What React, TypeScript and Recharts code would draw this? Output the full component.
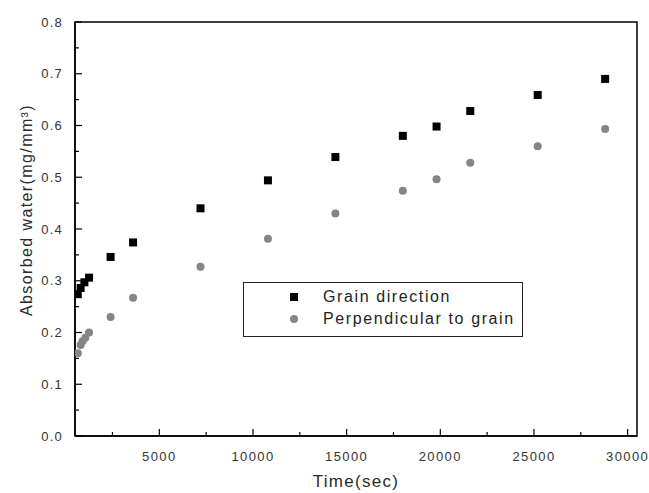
import React from 'react';
import { ScatterChart, Scatter, XAxis, YAxis, ReferenceArea } from 'recharts';

const seriesNames = ['Grain direction', 'Perpendicular to grain'];
const grainTime = [650, 800, 1000, 1250, 2400, 3600, 7200, 10800, 14400, 18000, 19800, 21600, 25200, 28800];
const grainWater = [0.274, 0.286, 0.297, 0.306, 0.346, 0.374, 0.44, 0.494, 0.539, 0.58, 0.598, 0.628, 0.659, 0.69];
const perpTime = [650, 800, 900, 1050, 1250, 2400, 3600, 7200, 10800, 14400, 18000, 19800, 21600, 25200, 28800];
const perpWater = [0.16, 0.176, 0.183, 0.19, 0.2, 0.23, 0.267, 0.327, 0.381, 0.43, 0.474, 0.496, 0.528, 0.56, 0.593];
const xMajorTicks = [5000, 10000, 15000, 20000, 25000, 30000];
const xMinorTicks = [2500, 7500, 12500, 17500, 22500, 27500];
const yMajorTicks = [0, 0.1, 0.2, 0.3, 0.4, 0.5, 0.6, 0.7, 0.8];
const yMinorTicks = [0.05, 0.15, 0.25, 0.35, 0.45, 0.55, 0.65, 0.75];
const xDomain = [500, 30500];
const yDomain = [0, 0.8];

const grainData = grainTime.map((t, i) => ({ t, w: grainWater[i] }));
const perpData = perpTime.map((t, i) => ({ t, w: perpWater[i] }));
const xAllTicks = [...xMajorTicks, ...xMinorTicks].sort((a, b) => a - b);
const yAllTicks = [...yMajorTicks, ...yMinorTicks].sort((a, b) => a - b);
const isMajor = (v: number, list: number[]) => list.some((m) => Math.abs(m - v) < 1e-9);

const FONT = '"Liberation Sans", Arial, sans-serif';
const GREY = '#858585';
const TICK_COLOR = '#333';

const Square = (p: any) => <rect x={p.cx - 4} y={p.cy - 4} width={8} height={8} fill="#000" />;
const Dot = (p: any) => <circle cx={p.cx} cy={p.cy} r={4} fill={GREY} />;

const XTick = (props: any) => {
  const { x, y, payload } = props;
  const v = payload.value;
  const major = isMajor(v, xMajorTicks);
  return (
    <g>
      <line x1={x} y1={y} x2={x} y2={y - (major ? 7 : 4)} stroke="#000" strokeWidth={1.2} />
      {major && (
        <text x={x} y={y + 25} textAnchor="middle" fontFamily={FONT} fontSize={13} letterSpacing={1.4} fill={TICK_COLOR}>
          {v}
        </text>
      )}
    </g>
  );
};

const YTick = (props: any) => {
  const { x, y, payload } = props;
  const v = payload.value;
  const major = isMajor(v, yMajorTicks);
  return (
    <g>
      <line x1={x} y1={y} x2={x + (major ? 7 : 4)} y2={y} stroke="#000" strokeWidth={1.2} />
      {major && (
        <text x={x - 12} y={y + 4.5} textAnchor="end" fontFamily={FONT} fontSize={13} letterSpacing={1.2} fill={TICK_COLOR}>
          {v.toFixed(1)}
        </text>
      )}
    </g>
  );
};

const YTitle = (props: any) => {
  const vb = props.viewBox;
  const x = vb.x + 26;
  const y = vb.y + vb.height / 2 - 19;
  return (
    <text x={x} y={y} transform={`rotate(-90 ${x} ${y})`} textAnchor="middle" dominantBaseline="central"
      fontFamily={FONT} fontSize={16} letterSpacing={1.4} fill="#2a2a2a">
      Absorbed water(mg/mm³)
    </text>
  );
};

const XTitle = (props: any) => {
  const vb = props.viewBox;
  const x = vb.x + vb.width / 2;
  const y = vb.y + 51;
  return (
    <text x={x} y={y} textAnchor="middle" fontFamily={FONT} fontSize={17} letterSpacing={1.3} fill="#2a2a2a">
      Time(sec)
    </text>
  );
};

export default function App() {
  return (
    <div style={{ position: 'absolute', left: 0, top: 0, width: 649, height: 493, background: '#fff' }}>
      <ScatterChart width={649} height={493} margin={{ top: 22, right: 12, left: 0, bottom: 0 }}>
        <XAxis xAxisId="main" dataKey="t" type="number" domain={xDomain} ticks={xAllTicks} interval={0} height={57}
          tickLine={false} tickSize={0} tickMargin={0} axisLine={{ stroke: '#000', strokeWidth: 1.5 }}
          tick={<XTick />} label={<XTitle />} allowDataOverflow />
        <YAxis yAxisId="main" dataKey="w" type="number" domain={yDomain} ticks={yAllTicks} interval={0} width={75}
          tickLine={false} tickSize={0} tickMargin={0} axisLine={{ stroke: '#000', strokeWidth: 1.5 }}
          tick={<YTick />} label={<YTitle />} allowDataOverflow />
        <ReferenceArea xAxisId="main" yAxisId="main" x1={xDomain[0]} x2={xDomain[1]} y1={yDomain[0]} y2={yDomain[1]}
          fill="none" fillOpacity={0} stroke="#000" strokeWidth={1.5} />
        <Scatter xAxisId="main" yAxisId="main" name={seriesNames[0]} data={grainData} shape={Square} isAnimationActive={false} />
        <Scatter xAxisId="main" yAxisId="main" name={seriesNames[1]} data={perpData} shape={Dot} isAnimationActive={false} />
      </ScatterChart>
      <div style={{ position: 'absolute', left: 243, top: 282, width: 278, height: 53, border: '1px solid #222', background: '#fff', fontFamily: FONT, fontSize: 16, letterSpacing: 1.6, color: '#222' }}>
        {seriesNames.map((name, i) => (
          <div key={name} style={{ position: 'absolute', left: 0, top: 4 + i * 22, height: 20, width: '100%', display: 'flex', alignItems: 'center' }}>
            <svg width={10} height={10} style={{ position: 'absolute', left: 45 }}>
              {i === 0 ? <rect x={1} y={1} width={8} height={8} fill="#000" /> : <circle cx={5} cy={5} r={4} fill={GREY} />}
            </svg>
            <span style={{ position: 'absolute', left: 79, lineHeight: '20px', whiteSpace: 'nowrap' }}>{name}</span>
          </div>
        ))}
      </div>
    </div>
  );
}
